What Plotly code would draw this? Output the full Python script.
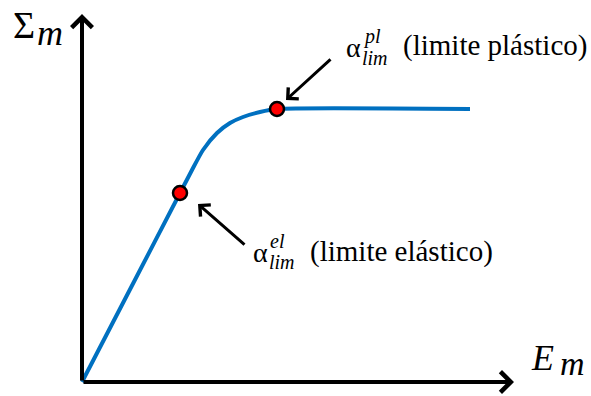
import plotly.graph_objects as go

# dados da curva (E_m, Sigma_m)
E_curve = [0, 1.225, 2.45, 2.75, 3.025, 3.375, 3.7, 4.025, 4.45, 4.875, 9.7]
S_curve = [0, 2.3625, 4.725, 5.3, 5.8, 6.225, 6.475, 6.625, 6.75, 6.825, 6.825]

# pontos limite
E_pts = [2.45, 4.875]
S_pts = [4.725, 6.825]

W, H = 591, 396
serif = "Liberation Serif"


def pos(px, py):
    return px / W, 1 - py / H


fig = go.Figure()

fig.add_trace(go.Scatter(x=E_curve, y=S_curve, mode='lines',
                         line=dict(color='#0070C0', width=4, shape='spline', smoothing=0.6),
                         hoverinfo='skip'))
fig.add_trace(go.Scatter(x=E_pts, y=S_pts, mode='markers',
                         marker=dict(size=14, color='#FF0000', line=dict(color='black', width=2.5)),
                         hoverinfo='skip'))

ann = []
# eixos com setas
ann.append(dict(x=0, y=9.2, ax=0, ay=0, xref='x', yref='y', axref='x', ayref='y',
                showarrow=True, arrowhead=4, arrowwidth=4, arrowsize=1, arrowcolor='black',
                standoff=0, text=''))
ann.append(dict(x=10.8, y=0, ax=0, ay=0, xref='x', yref='y', axref='x', ayref='y',
                showarrow=True, arrowhead=4, arrowwidth=4, arrowsize=1, arrowcolor='black',
                standoff=0, text=''))
# setas para os pontos
ann.append(dict(x=5.1, y=7.05, ax=6.25, ay=8.1, xref='x', yref='y', axref='x', ayref='y',
                showarrow=True, arrowhead=4, arrowwidth=3, arrowsize=1, arrowcolor='black',
                standoff=0, text=''))
ann.append(dict(x=2.9, y=4.45, ax=4.1, ay=3.4, xref='x', yref='y', axref='x', ayref='y',
                showarrow=True, arrowhead=4, arrowwidth=3, arrowsize=1, arrowcolor='black',
                standoff=0, text=''))


def txt(s, px, py, size, italic=False, anchor='left'):
    x, y = pos(px, py)
    if italic:
        s = '<i>' + s + '</i>'
    ann.append(dict(x=x, y=y, xref='paper', yref='paper', text=s, showarrow=False,
                    xanchor=anchor, yanchor='middle',
                    font=dict(family=serif, size=size, color='black')))


# rótulos dos eixos
txt('Σ', 11, 25, 38)
txt('m', 35, 33, 36, italic=True)
txt('E', 529, 358, 36, italic=True)
txt('m', 558, 363, 34, italic=True)

# limite plástico
txt('α', 344, 47, 28)
txt('pl', 361, 36, 20, italic=True)
txt('lim', 360, 58, 20, italic=True)
txt('(limite plástico)', 401, 45, 29)

# limite elástico
txt('α', 251, 253, 28)
txt('el', 268, 241, 20, italic=True)
txt('lim', 267, 262, 20, italic=True)
txt('(limite elástico)', 308, 251, 29)

fig.update_layout(
    width=W, height=H,
    margin=dict(l=0, r=0, t=0, b=0),
    paper_bgcolor='white', plot_bgcolor='white',
    showlegend=False,
    xaxis=dict(range=[-82 / 40, (W - 82) / 40], visible=False, fixedrange=True),
    yaxis=dict(range=[(382 - H) / 40, 382 / 40], visible=False, fixedrange=True),
    annotations=ann,
)

fig.write_html("out.html", config={'displayModeBar': False},
               post_script="document.body.style.margin='0';")
